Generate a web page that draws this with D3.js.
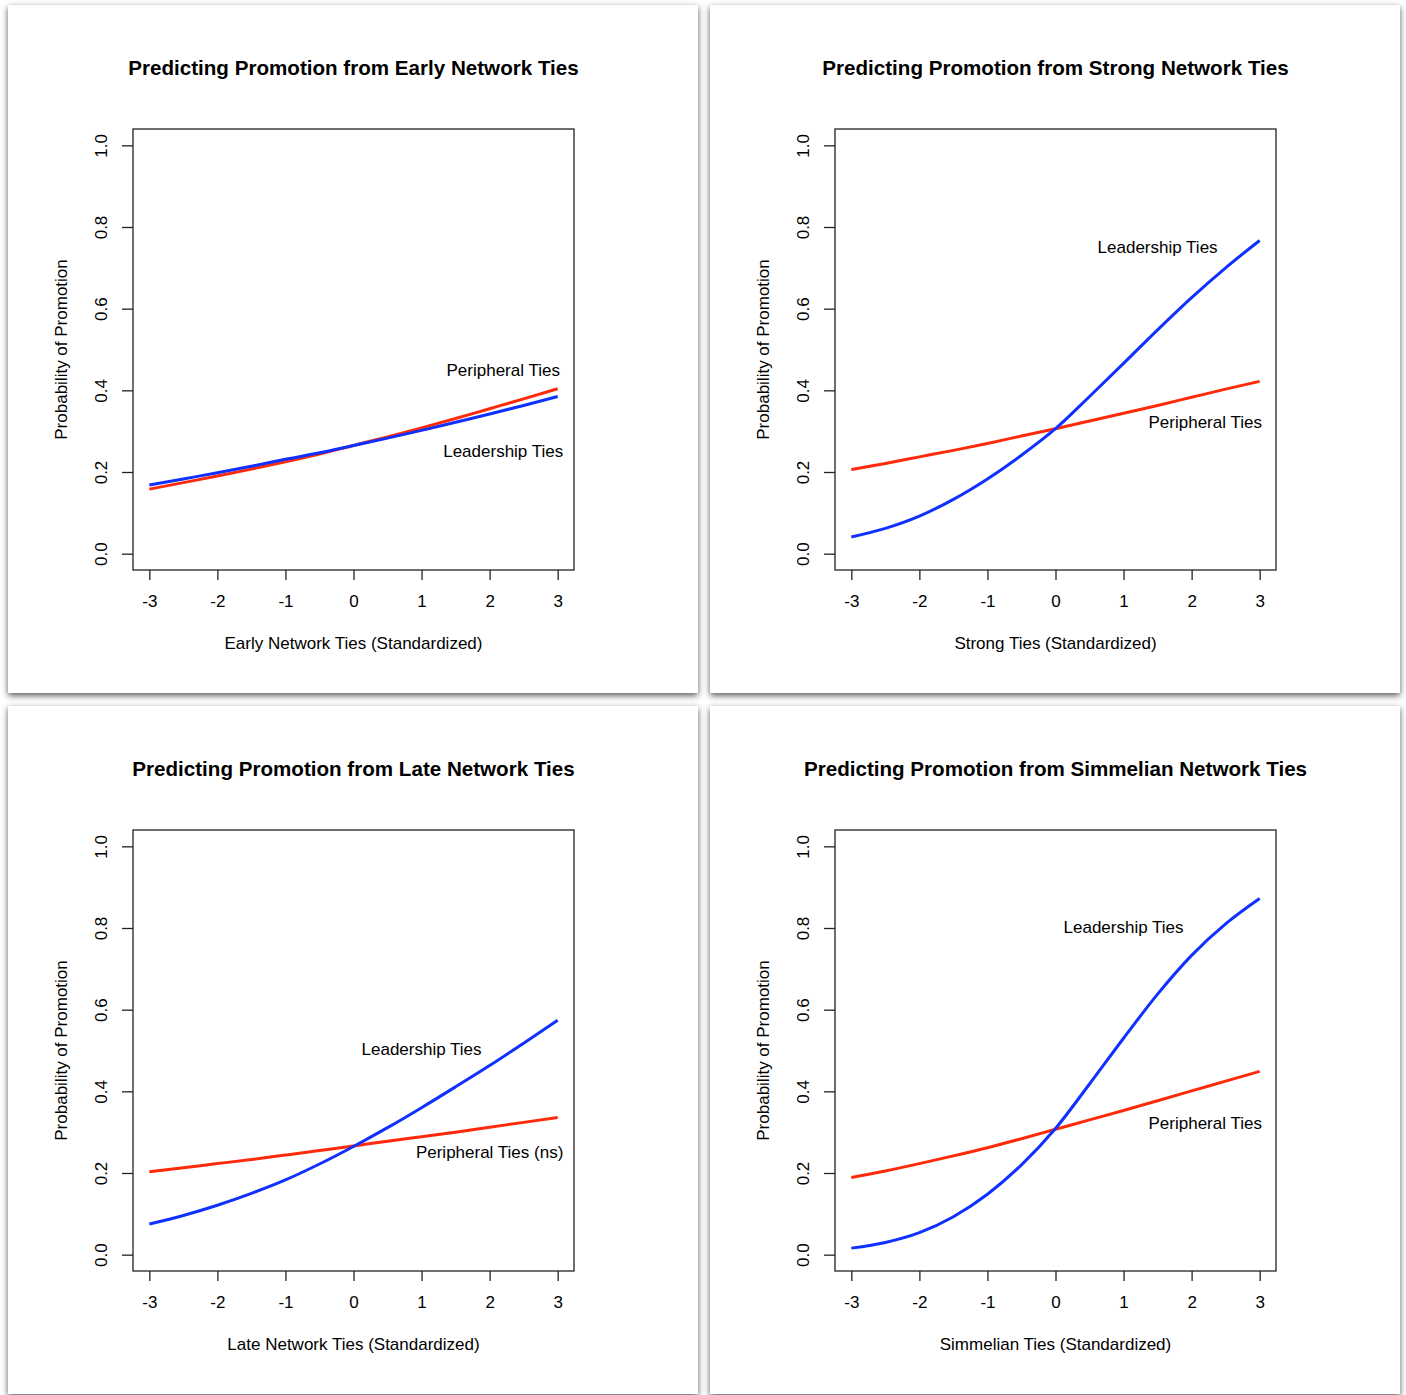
<!DOCTYPE html>
<html>
<head>
<meta charset="utf-8">
<script src="https://cdn.jsdelivr.net/npm/d3@7"></script>
<style>
  body { margin: 0; background: #ffffff; }
  svg { display: block; }
  text { font-family: "Liberation Sans", Arial, Helvetica, sans-serif; fill: #000; }
</style>
</head>
<body>
<div id="container"></div>
<script>
/**
 * DATA
 * */
const xValues = [-3, -2.5, -2, -1.5, -1, -0.5, 0, 0.5, 1, 1.5, 2, 2.5, 3];
const xTicks = [-3, -2, -1, 0, 1, 2, 3];
const yTicks = [0, 0.2, 0.4, 0.6, 0.8, 1.0];

// early network ties
const earlyPeripheral = [0.158, 0.174, 0.190, 0.207, 0.225, 0.244, 0.265, 0.286, 0.308, 0.331, 0.355, 0.379, 0.404];
const earlyLeadership = [0.168, 0.183, 0.198, 0.214, 0.231, 0.247, 0.265, 0.283, 0.302, 0.322, 0.342, 0.363, 0.385];

// strong ties
const strongPeripheral = [0.206, 0.221, 0.237, 0.253, 0.270, 0.288, 0.306, 0.325, 0.344, 0.363, 0.383, 0.403, 0.422];
const strongLeadership = [0.041, 0.062, 0.092, 0.133, 0.183, 0.241, 0.306, 0.385, 0.466, 0.548, 0.627, 0.700, 0.767];

// late network ties
const latePeripheral = [0.203, 0.213, 0.223, 0.233, 0.244, 0.255, 0.266, 0.278, 0.289, 0.300, 0.312, 0.324, 0.336];
const lateLeadership = [0.075, 0.096, 0.121, 0.150, 0.183, 0.222, 0.265, 0.311, 0.360, 0.411, 0.463, 0.518, 0.574];

// simmelian ties
const simPeripheral = [0.189, 0.205, 0.223, 0.242, 0.262, 0.284, 0.307, 0.330, 0.353, 0.377, 0.401, 0.425, 0.449];
const simLeadership = [0.016, 0.030, 0.054, 0.093, 0.148, 0.220, 0.309, 0.418, 0.530, 0.638, 0.733, 0.810, 0.872];

const titles = [
  "Predicting Promotion from Early Network Ties",
  "Predicting Promotion from Strong Network Ties",
  "Predicting Promotion from Late Network Ties",
  "Predicting Promotion from Simmelian Network Ties"
];
const xTitles = [
  "Early Network Ties (Standardized)",
  "Strong Ties (Standardized)",
  "Late Network Ties (Standardized)",
  "Simmelian Ties (Standardized)"
];
const yTitle = "Probability of Promotion";

// label text + anchor in data units
const labels = [
  [{t: "Peripheral Ties", x: 2.2, y: 0.449}, {t: "Leadership Ties", x: 2.2, y: 0.250}],
  [{t: "Leadership Ties", x: 1.5, y: 0.750}, {t: "Peripheral Ties", x: 2.2, y: 0.321}],
  [{t: "Leadership Ties", x: 1.0, y: 0.502}, {t: "Peripheral Ties (ns)", x: 2.0, y: 0.250}],
  [{t: "Leadership Ties", x: 1.0, y: 0.801}, {t: "Peripheral Ties", x: 2.2, y: 0.321}]
];

const series = [
  [earlyPeripheral, earlyLeadership],
  [strongPeripheral, strongLeadership],
  [latePeripheral, lateLeadership],
  [simPeripheral, simLeadership]
];

/**
 * LAYOUT
 * */
const width = 1406, height = 1395;
const panelW = 690, panelH = 688;
const panelPos = [[8, 5], [710, 5], [8, 706], [710, 706]];
const colors = ["#ff2a0a", "#1030ff"]; // peripheral, leadership
const fs = 17;

let svg = d3.select("#container")
  .append("svg")
  .attr("width", width)
  .attr("height", height);

// drop shadow like the screenshot frames
const defs = svg.append("defs");
defs.append("filter")
  .attr("id", "shadow")
  .attr("x", "-5%").attr("y", "-5%")
  .attr("width", "110%").attr("height", "110%")
  .append("feDropShadow")
  .attr("dx", 0).attr("dy", 2.5)
  .attr("stdDeviation", 3)
  .attr("flood-color", "#000")
  .attr("flood-opacity", 0.65);

const x = d3.scaleLinear().domain([-3.24, 3.24]).range([125, 566]);
const y = d3.scaleLinear().domain([-0.04, 1.04]).range([565, 124]);

const line = d3.line()
  .x(d => x(d[0]))
  .y(d => y(d[1]))
  .curve(d3.curveMonotoneX);

/**
 * DRAW
 * */
panelPos.forEach((p, i) => {
  const g = svg.append("g").attr("transform", `translate(${p[0]},${p[1]})`);

  g.append("rect")
    .attr("width", panelW).attr("height", panelH)
    .attr("fill", "#fff")
    .attr("filter", "url(#shadow)");

  // title
  g.append("text")
    .attr("x", x(0)).attr("y", 62)
    .attr("text-anchor", "middle")
    .attr("dominant-baseline", "central")
    .attr("font-size", 20.6)
    .attr("font-weight", "bold")
    .text(titles[i]);

  // curves
  series[i].forEach((vals, k) => {
    g.append("path")
      .datum(xValues.map((xv, j) => [xv, vals[j]]))
      .attr("d", line)
      .attr("fill", "none")
      .attr("stroke", colors[k])
      .attr("stroke-width", 3);
  });

  // box
  g.append("rect")
    .attr("x", x.range()[0]).attr("y", y.range()[1])
    .attr("width", x.range()[1] - x.range()[0])
    .attr("height", y.range()[0] - y.range()[1])
    .attr("fill", "none")
    .attr("stroke", "#222")
    .attr("stroke-width", 1.3);

  // x axis
  const xAxis = g.append("g")
    .attr("transform", `translate(0,${y.range()[0]})`)
    .call(d3.axisBottom(x).tickValues(xTicks).tickSize(10).tickPadding(15).tickFormat(d => String(d)));
  xAxis.select(".domain").remove();
  xAxis.selectAll("line").attr("stroke", "#222").attr("stroke-width", 1.3);
  xAxis.selectAll("text")
    .attr("font-size", fs)
    .attr("font-family", "Liberation Sans, Arial, sans-serif")
    .attr("fill", "#000");

  // y axis (rotated labels as in R)
  const yAxis = g.append("g")
    .attr("transform", `translate(${x.range()[0]},0)`)
    .call(d3.axisLeft(y).tickValues(yTicks).tickSize(11).tickFormat(d3.format(".1f")));
  yAxis.select(".domain").remove();
  yAxis.selectAll("line").attr("stroke", "#222").attr("stroke-width", 1.3);
  yAxis.selectAll("text")
    .attr("x", null).attr("dy", null)
    .attr("transform", "translate(-32,0) rotate(-90)")
    .attr("text-anchor", "middle")
    .attr("dominant-baseline", "central")
    .attr("font-size", fs)
    .attr("font-family", "Liberation Sans, Arial, sans-serif")
    .attr("fill", "#000");

  // axis titles
  g.append("text")
    .attr("x", x(0)).attr("y", 638)
    .attr("text-anchor", "middle")
    .attr("dominant-baseline", "central")
    .attr("font-size", fs)
    .text(xTitles[i]);

  g.append("text")
    .attr("transform", `translate(53,${y(0.5)}) rotate(-90)`)
    .attr("text-anchor", "middle")
    .attr("dominant-baseline", "central")
    .attr("font-size", fs)
    .text(yTitle);

  // curve labels
  g.selectAll("text.lab")
    .data(labels[i])
    .join("text")
    .attr("class", "lab")
    .attr("x", d => x(d.x))
    .attr("y", d => y(d.y))
    .attr("text-anchor", "middle")
    .attr("dominant-baseline", "central")
    .attr("font-size", fs)
    .text(d => d.t);
});
</script>
</body>
</html>
